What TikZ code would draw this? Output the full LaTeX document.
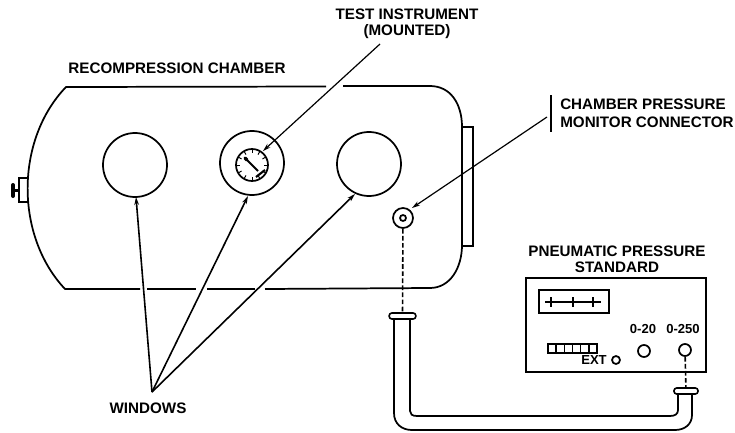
\documentclass[tikz,border=0pt]{standalone}
\usepackage{fontspec}
\setmainfont{Liberation Sans}
\usetikzlibrary{arrows.meta,positioning,calc}
\tikzset{
  lbl style/.style={font=\fontsize{11.4}{12}\selectfont\bfseries, inner sep=0pt, align=center},
  small style/.style={font=\fontsize{9.8}{11}\selectfont\bfseries, inner sep=0pt},
  body style/.style={line width=1.3pt},
  win style/.style={circle, draw, line width=1.3pt, minimum size=48pt, inner sep=0pt},
  port style/.style={circle, draw, line width=1.3pt, inner sep=0pt},
  arr style/.style={-{Stealth[length=6pt,width=3.5pt]}, line width=0.9pt},
  lead style/.style={-{Stealth[length=6pt,width=3.5pt]}, line width=1.2pt},
  dash style/.style={line width=1.2pt, dash pattern=on 3.5pt off 1.8pt}
}
\begin{document}
\begin{tikzpicture}[x=0.75pt,y=-0.75pt]
\useasboundingbox (0,0) rectangle (735,432);
% chamber
\draw[body style] (326,86.5) -- (66,87) .. controls (15,140) and (15,236) .. (65,289) -- (140,289);
\draw[body style] (147,289) -- (196,289);
\draw[body style] (207,289) -- (255,289);
\draw[body style] (265,289) -- (430,288) .. controls (450,288) and (462,268) .. (462,245)
  -- (462,127) .. controls (462,103) and (450,86) .. (430,86) -- (343,86);
% door and knob
\draw[line width=1pt] (462,127) -- (473,127) -- (473,246) -- (462,246);
\draw[line width=1pt] (28,178) -- (19,178) -- (19,202) -- (28,202);
\draw[line width=3pt, line cap=round] (13,185) -- (13,196);
\draw[line width=2.2pt] (13,190.5) -- (19,190.5);
% windows
\node[win style] (win1) at (135,165) {};
\node[win style] (win2) at (252,163) {};
\node[win style] (win3) at (369,164) {};
% gauge
\node[port style, minimum size=24pt] (dial) at (252,165) {};
\foreach \a in {0,30,...,330}
  \draw[line width=0.7pt] ($(dial)+(\a:16)$) -- ($(dial)+(\a:12)$);
\draw[line width=1.5pt] (245,158) -- (258,171);
\draw[line width=2.6pt, line cap=round] (245,158) -- (247,160);
\draw[line width=1.6pt] (256,177) -- (265,170);
% connector
\node[port style, minimum size=15pt] (conn) at (403,218) {};
\node[port style, minimum size=4.5pt] (connin) at (403,218) {};
% labels
\node[lbl style] (titlelbl) at (177,68) {RECOMPRESSION CHAMBER};
\node[lbl style] (testlbl) at (407,24) {TEST INSTRUMENT\\(MOUNTED)};
\node[lbl style, align=left, anchor=west, font=\fontsize{11.4}{13.5}\selectfont\bfseries] (connlbl) at (560,113) {CHAMBER PRESSURE\\MONITOR CONNECTOR};
\node[lbl style] (stdlbl) at (617,259) {PNEUMATIC PRESSURE\\STANDARD};
\node[lbl style] (winlbl) at (148,408) {WINDOWS};
% leaders
\coordinate (testend) at (380,44);
\coordinate (barend) at (547,117);
\coordinate (winsend) at (152,392);
\draw[arr style] (testend) -- (263,151);
\draw[arr style] (barend) -- (412,208);
\draw[line width=1.6pt] (551,95) -- (551,132);
\draw[lead style] (winsend) -- (136,197);
\draw[lead style] (winsend) -- (248,196);
\draw[lead style] (winsend) -- (355,194);
% panel
\node[draw, line width=1.2pt, minimum width=135pt, minimum height=70.5pt, inner sep=0pt] (panel) at (616,325) {};
\node[draw, line width=1.4pt, minimum width=52.5pt, minimum height=17pt, inner sep=0pt] (disp) at (574,301.5) {};
\draw[line width=1.1pt] (545,302) -- (601,302);
\foreach \x in {551,573,593}
  \draw[line width=1.1pt] (\x,297) -- (\x,307);
\foreach \x in {0,...,5}
  \draw[line width=1.2pt] (548+\x*8.17,344) rectangle +(8.17,9);
\node[small style] (extlbl) at (594,360) {EXT};
\node[port style, minimum size=6pt] (extport) at (616,360) {};
\node[small style] (lowlbl) at (643,329) {0-20};
\node[small style] (highlbl) at (683,329) {0-250};
\node[port style, minimum size=9pt] (lowport) at (644,351) {};
\node[port style, minimum size=9pt] (highport) at (685,350) {};
% hose
\draw[line width=1.3pt] (394,319) -- (394,413) .. controls (394,424) and (402,430) .. (412,430)
  -- (675,430) .. controls (685,430) and (692,424) .. (692,415) -- (692,394);
\draw[line width=1.3pt] (410,319) -- (410,411) .. controls (410,414) and (412,416) .. (417,416)
  -- (670,416) .. controls (675,416) and (678,414) .. (678,410) -- (678,394);
\node[draw, line width=1.2pt, fill=white, rounded corners=2pt, minimum width=20pt, minimum height=4.5pt, inner sep=0pt] (flangea) at (402.5,316) {};
\node[draw, line width=1.2pt, fill=white, rounded corners=2pt, minimum width=18pt, minimum height=4.5pt, inner sep=0pt] (flangeb) at (686,391) {};
\draw[dash style] (conn) -- (flangea);
\draw[dash style] (highport) -- (flangeb);
\end{tikzpicture}
\end{document}
